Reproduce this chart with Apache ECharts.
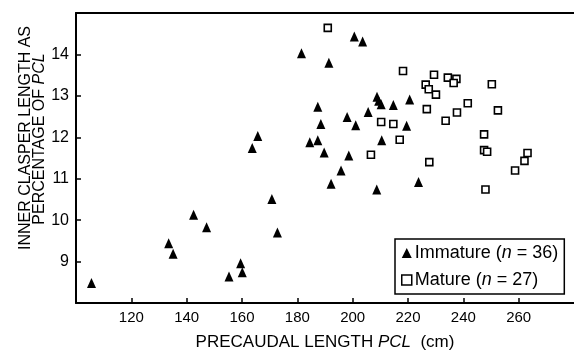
<!DOCTYPE html>
<html>
<head>
<meta charset="utf-8">
<script src="https://cdn.jsdelivr.net/npm/echarts@6/dist/echarts.min.js"></script>
<style>
html,body{margin:0;padding:0;background:#fff;}
#chart{width:574px;height:352px;}
</style>
</head>
<body>
<div id="chart"></div>
<script>
// Immature (n = 36)
var immatureX = [105.6, 133.5, 135.1, 142.5, 147.2, 155.3, 159.5, 160.1, 163.7, 165.7,
  170.8, 172.8, 181.5, 184.5, 187.4, 187.4, 188.5, 189.7, 191.4, 192.2,
  195.8, 198.0, 198.6, 200.6, 201.1, 203.6, 205.6, 208.7, 208.8, 209.4,
  210.3, 210.5, 214.7, 219.5, 220.6, 223.8];
var immatureY = [8.48, 9.44, 9.19, 10.13, 9.83, 8.64, 8.96, 8.74, 11.74, 12.03,
  10.51, 9.70, 14.03, 11.88, 11.93, 12.74, 12.32, 11.63, 13.80, 10.88,
  11.20, 12.49, 11.56, 14.43, 12.29, 14.31, 12.61, 10.74, 12.98, 12.88,
  12.80, 11.93, 12.78, 12.28, 12.91, 10.92];
// Mature (n = 27)
var matureX = [191.0, 218.2, 229.4, 234.4, 237.5, 236.5, 226.4, 227.5, 230.1, 250.3,
  252.5, 241.6, 237.7, 233.6, 226.8, 210.3, 214.7, 217.0, 247.5, 247.5,
  248.6, 263.2, 262.1, 258.7, 248.0, 206.6, 227.7];
var matureY = [14.64, 13.60, 13.51, 13.44, 13.41, 13.31, 13.27, 13.16, 13.03, 13.28,
  12.65, 12.82, 12.60, 12.40, 12.68, 12.37, 12.32, 11.94, 12.07, 11.69,
  11.65, 11.62, 11.43, 11.20, 10.74, 11.58, 11.40];
var xTicks = [120, 140, 160, 180, 200, 220, 240, 260];
var yTicks = [9, 10, 11, 12, 13, 14];

function pairs(xs, ys) { return xs.map(function (x, i) { return [x, ys[i]]; }); }

var FONT = 'Liberation Sans, Arial, Helvetica, sans-serif';
var chart = echarts.init(document.getElementById('chart'), null, {renderer: 'canvas'});
chart.setOption({
  animation: false,
  backgroundColor: '#fff',
  textStyle: {fontFamily: FONT, color: '#000'},
  grid: {left: 76, right: 0, top: 13, bottom: 49, containLabel: false, outerBoundsMode: 'none'},
  xAxis: [{
    type: 'value', min: 100, max: 280, interval: 20,
    axisLine: {show: true, onZero: false, lineStyle: {color: '#000', width: 2}},
    axisTick: {show: true, inside: true, length: 5, lineStyle: {color: '#000', width: 1.5}},
    axisLabel: {
      color: '#000', fontSize: 15, fontFamily: FONT, margin: 7,
      showMinLabel: false, showMaxLabel: false,
      formatter: function (v) { return xTicks.indexOf(v) >= 0 ? String(v) : ''; }
    },
    splitLine: {show: false},
    name: 'PRECAUDAL LENGTH {i|PCL}  (cm)',
    nameLocation: 'middle', nameGap: 31,
    nameTextStyle: {color: '#000', fontSize: 17, fontFamily: FONT,
      rich: {i: {fontStyle: 'italic', fontSize: 17, fontFamily: FONT, color: '#000'}}}
  }, {
    type: 'value', position: 'top', min: 100, max: 280, interval: 20,
    axisLine: {show: true, onZero: false, lineStyle: {color: '#000', width: 2}},
    axisTick: {show: false}, axisLabel: {show: false}, splitLine: {show: false}
  }],
  yAxis: [{
    type: 'value', min: 8, max: 15, interval: 1,
    axisLine: {show: true, onZero: false, lineStyle: {color: '#000', width: 2}},
    axisTick: {show: true, inside: true, length: 5, lineStyle: {color: '#000', width: 1.5}},
    axisLabel: {
      color: '#000', fontSize: 16, fontFamily: FONT, margin: 7,
      showMinLabel: false, showMaxLabel: false,
      formatter: function (v) { return yTicks.indexOf(v) >= 0 ? String(v) : ''; }
    },
    splitLine: {show: false}
  }],
  legend: {
    show: true, orient: 'vertical', left: 395, top: 239,
    selectedMode: false,
    backgroundColor: '#fff', borderColor: '#000', borderWidth: 1.5, borderRadius: 0,
    padding: [5, 6, 5, 6], itemGap: 9, itemWidth: 10, itemHeight: 10,
    textStyle: {color: '#000', fontSize: 18, fontFamily: FONT, padding: [0, 0, 0, -2],
      rich: {i: {fontStyle: 'italic', fontSize: 18, fontFamily: FONT, color: '#000'}}},
    formatter: function (name) {
      return name === 'Immature' ? 'Immature ({i|n} = 36)' : 'Mature ({i|n} = 27)';
    },
    data: [
      {name: 'Immature', icon: 'triangle', itemStyle: {color: '#000', borderWidth: 0}},
      {name: 'Mature', icon: 'rect', itemStyle: {color: '#fff', borderColor: '#000', borderWidth: 1.5}}
    ]
  },
  graphic: [{
    type: 'text', x: 26, y: 138,
    rotation: Math.PI / 2,
    style: {
      text: 'INNER CLASPER LENGTH AS',
      fill: '#000', font: '16px ' + FONT, align: 'center', verticalAlign: 'middle'
    }
  }, {
    type: 'text', x: 40, y: 139,
    rotation: Math.PI / 2,
    style: {
      text: 'PERCENTAGE OF {i|PCL}',
      fill: '#000', font: '16px ' + FONT, align: 'center', verticalAlign: 'middle',
      rich: {i: {fontStyle: 'italic', fontSize: 16, fontFamily: FONT, fill: '#000'}}
    }
  }],
  series: [{
    name: 'Immature', type: 'scatter', xAxisIndex: 0, yAxisIndex: 0,
    symbol: 'triangle', symbolSize: [9, 10],
    itemStyle: {color: '#000', opacity: 1},
    data: pairs(immatureX, immatureY)
  }, {
    name: 'Mature', type: 'scatter', xAxisIndex: 0, yAxisIndex: 0,
    symbol: 'rect', symbolSize: 7,
    itemStyle: {color: '#fff', borderColor: '#000', borderWidth: 1.6, opacity: 1},
    data: pairs(matureX, matureY)
  }]
});
</script>
</body>
</html>
